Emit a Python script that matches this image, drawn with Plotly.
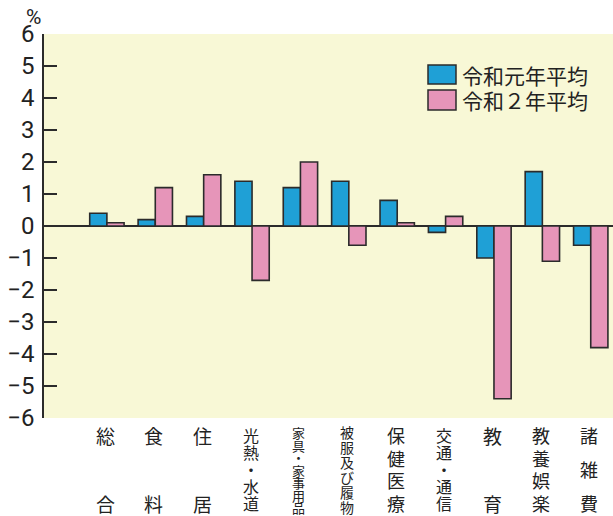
import plotly.graph_objects as go

# Category labels (drawn vertically under each bar group)
categories = ["総合", "食料", "住居", "光熱・水道", "家具・家事用品", "被服及び履物",
              "保健医療", "交通・通信", "教育", "教養娯楽", "諸雑費"]
# Year-on-year change (%)
reiwa1 = [0.4, 0.2, 0.3, 1.4, 1.2, 1.4, 0.8, -0.2, -1.0, 1.7, -0.6]
reiwa2 = [0.1, 1.2, 1.6, -1.7, 2.0, -0.6, 0.1, 0.3, -5.4, -1.1, -3.8]
series_names = ["令和元年平均", "令和２年平均"]
y_ticks = list(range(-6, 7))

colors = ["#1fa0d6", "#e695b9"]
outline = "#2b2b2b"
bg = "#f8f8d6"
cjk = "Noto Sans CJK JP"
num_font = "Roboto, Liberation Sans, sans-serif"

W, H = 613, 516
L, R, T, B = 44, 0, 34, 98
plot_w = W - L - R
plot_h = H - T - B
LINE_SPACING = 1.3  # plotly's line height factor for multi-line text


def px_x(px):
    return (px - L) / plot_w


def px_y(py):
    return (H - B - py) / plot_h


idx = list(range(len(categories)))

fig = go.Figure()
for name, vals, col in zip(series_names, [reiwa1, reiwa2], colors):
    fig.add_trace(go.Bar(
        x=idx, y=vals, name=name, showlegend=False,
        marker=dict(color=col, line=dict(color=outline, width=1.6)),
    ))

fig.update_layout(
    width=W, height=H, autosize=False,
    margin=dict(l=L, r=R, t=T, b=B, pad=0),
    paper_bgcolor="white", plot_bgcolor=bg,
    barmode="group", bargap=0.29, bargroupgap=0,
    font=dict(family=cjk, color="#222"),
)

fig.update_xaxes(
    range=[-1.3, 10.46], showticklabels=False, showgrid=False,
    showline=False, zeroline=False, ticks="",
)
fig.update_yaxes(
    range=[-6, 6], tickvals=y_ticks,
    ticktext=[("\u2212" + str(-v)) if v < 0 else str(v) for v in y_ticks],
    ticks="inside", ticklen=13, tickwidth=1.5, tickcolor=outline,
    showline=True, linecolor=outline, linewidth=1.5,
    showgrid=False, zeroline=True, zerolinecolor=outline, zerolinewidth=1.5,
    tickfont=dict(family=num_font, size=24, color="#222"),
    ticklabelstandoff=3,
)

annotations = []

# unit label
annotations.append(dict(
    x=px_x(33), y=px_y(17), xref="paper", yref="paper", text="%",
    showarrow=False, xanchor="center", yanchor="middle",
    font=dict(family=num_font, size=21, color="#222"),
))

# vertical category labels: one text per category, one character per line.
# The base font size sets the line pitch; each glyph gets its own size.
glyph_size = {2: 19, 3: 18, 4: 18, 5: 16, 6: 14, 7: 13}
for i, label in enumerate(categories):
    n = len(label)
    t0, t1 = (432, 507) if n >= 6 else (435, 503)
    pitch = (t1 - t0) / (n - 1)
    base = pitch / LINE_SPACING
    text = "<br>".join(
        f"<span style='font-size:{glyph_size[n]}px'>{ch}</span>" for ch in label
    )
    annotations.append(dict(
        x=i - 0.03, y=px_y((t0 + t1) / 2), xref="x", yref="paper", text=text,
        showarrow=False, xanchor="center", yanchor="middle",
        font=dict(family=cjk, size=base, color="#222"),
    ))

# legend
shapes = []
legend_rows = [(65, 84), (90, 110)]
for (y0, y1), name, col in zip(legend_rows, series_names, colors):
    shapes.append(dict(
        type="rect", xref="paper", yref="paper",
        x0=px_x(428), x1=px_x(456), y0=px_y(y1), y1=px_y(y0),
        fillcolor=col, line=dict(color=outline, width=1.5),
    ))
    annotations.append(dict(
        x=px_x(460), y=px_y((y0 + y1) / 2), xref="paper", yref="paper",
        text=name, showarrow=False, xanchor="left", yanchor="middle",
        font=dict(family=cjk, size=21, color="#222"),
    ))

fig.update_layout(annotations=annotations, shapes=shapes)

fig.write_html("out.html")
